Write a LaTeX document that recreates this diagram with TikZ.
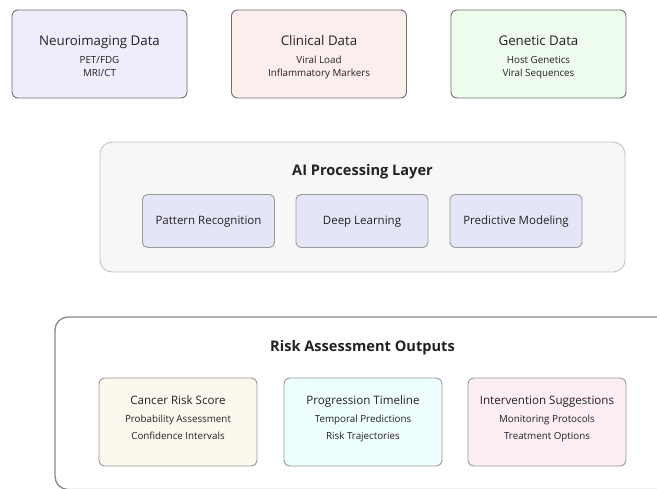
\documentclass[tikz,border=0pt]{standalone}
\usepackage{fontspec}
\setmainfont{Open Sans}
\definecolor{neurofill}{HTML}{EDEDFC}
\definecolor{clinfill}{HTML}{FCEEEC}
\definecolor{genfill}{HTML}{EDFCEC}
\definecolor{aifill}{HTML}{F7F7F7}
\definecolor{innerfill}{HTML}{E5E5F8}
\definecolor{cancerfill}{HTML}{FCF8EE}
\definecolor{progfill}{HTML}{EEFDFD}
\definecolor{intfill}{HTML}{FCEEF1}
\definecolor{darkline}{HTML}{707070}
\definecolor{midline}{HTML}{9A9A9A}
\definecolor{lightline}{HTML}{C4C4C4}
\definecolor{outline}{HTML}{888888}
\definecolor{txt}{HTML}{222222}
\begin{document}
\begin{tikzpicture}[x=1pt,y=-1pt,
  every node/.style={inner sep=0pt, outer sep=0pt, text=txt},
  databox/.style={draw=darkline, line width=0.9pt, rounded corners=6pt, minimum width=175pt, minimum height=88pt},
  outbox/.style={draw=midline, line width=0.9pt, rounded corners=6pt, minimum width=158pt, minimum height=88pt},
  aibox/.style={draw=midline, fill=innerfill, line width=0.9pt, rounded corners=5pt, minimum width=132pt, minimum height=53pt},
  lbl/.style={text height=0.74em, text depth=0pt},
  bigttl/.style={lbl, font=\fontsize{13.3}{15}\selectfont},
  midttl/.style={lbl, font=\fontsize{11.6}{13}\selectfont},
  subtxt/.style={lbl, font=\fontsize{9.8}{11}\selectfont},
  innertxt/.style={lbl, font=\fontsize{11.5}{13}\selectfont},
  grpttl/.style={lbl, font=\fontsize{14.6}{16}\selectfont\bfseries}]
\useasboundingbox (0,0) rectangle (657,489);
\fill[white] (0,0) rectangle (657,489);

% input data boxes
\node[databox, fill=neurofill] (neuro) at (99.5,54) {};
\node[bigttl] (neuro-t) at (99.5,42) {Neuroimaging Data};
\node[subtxt] (neuro-a) at (99.5,59.5) {PET/FDG};
\node[subtxt] (neuro-b) at (99.5,73) {MRI/CT};

\node[databox, fill=clinfill] (clin) at (319,54) {};
\node[bigttl] (clin-t) at (319,42) {Clinical Data};
\node[subtxt] (clin-a) at (319,59.5) {Viral Load};
\node[subtxt] (clin-b) at (319,73) {Inflammatory Markers};

\node[databox, fill=genfill] (gen) at (538.5,54) {};
\node[bigttl] (gen-t) at (538.5,42) {Genetic Data};
\node[subtxt] (gen-a) at (538.5,59.5) {Host Genetics};
\node[subtxt] (gen-b) at (538.5,73) {Viral Sequences};

% AI processing layer
\node[draw=lightline, fill=aifill, line width=0.9pt, rounded corners=12pt,
      minimum width=525pt, minimum height=130pt] (ai) at (362.5,207) {};
\node[grpttl] (ai-t) at (362.5,172) {AI Processing Layer};
\node[aibox] (pat) at (208.5,221) {};
\node[innertxt] (pat-t) at (208.5,221) {Pattern Recognition};
\node[aibox] (deep) at (362,221) {};
\node[innertxt] (deep-t) at (362,221) {Deep Learning};
\node[aibox] (pred) at (516,221) {};
\node[innertxt] (pred-t) at (516,221) {Predictive Modeling};

% risk assessment outputs
\begin{scope}
\clip (0,0) rectangle (657,489);
\node[draw=outline, fill=white, line width=1.3pt, rounded corners=13pt,
      minimum width=660pt, minimum height=172.5pt] (risk) at (385,403.25) {};
\end{scope}
\node[grpttl] (risk-t) at (362.5,348) {Risk Assessment Outputs};

\node[outbox, fill=cancerfill] (cancer) at (178,422) {};
\node[midttl] (cancer-t) at (178,401) {Cancer Risk Score};
\node[subtxt] (cancer-a) at (178,419) {Probability Assessment};
\node[subtxt] (cancer-b) at (178,435.5) {Confidence Intervals};

\node[outbox, fill=progfill] (prog) at (363,422) {};
\node[midttl] (prog-t) at (363,401) {Progression Timeline};
\node[subtxt] (prog-a) at (363,419) {Temporal Predictions};
\node[subtxt] (prog-b) at (363,435.5) {Risk Trajectories};

\node[outbox, fill=intfill] (int) at (547,422) {};
\node[midttl] (int-t) at (547,401) {Intervention Suggestions};
\node[subtxt] (int-a) at (547,419) {Monitoring Protocols};
\node[subtxt] (int-b) at (547,435.5) {Treatment Options};
\end{tikzpicture}
\end{document}
